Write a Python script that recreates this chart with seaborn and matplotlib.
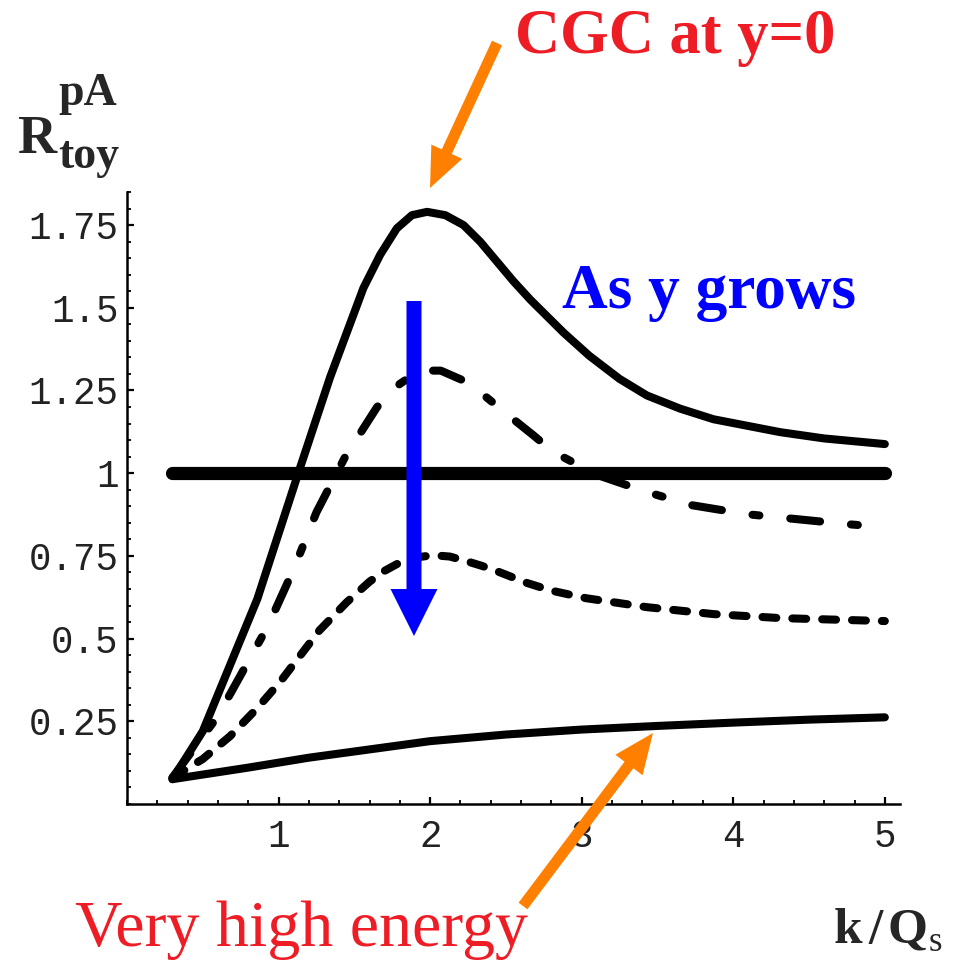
import matplotlib
matplotlib.use('Agg')
import matplotlib.pyplot as plt
import seaborn as sns
from matplotlib.patches import FancyArrow
from matplotlib.transforms import IdentityTransform
from matplotlib.ticker import FixedLocator, MultipleLocator, FuncFormatter

# curves (k/Qs, R)
top_x = [0.3, 0.5, 0.68, 0.86, 1.13, 1.34, 1.56, 1.67, 1.78, 1.88, 1.98, 2.1, 2.22, 2.33, 2.44,
         2.55, 2.66, 2.77, 2.88, 3.05, 3.25, 3.43, 3.65, 3.87, 4.31, 4.6, 5.0]
top_y = [0.075, 0.22, 0.42, 0.62, 1.0, 1.29, 1.56, 1.66, 1.74, 1.78, 1.79, 1.78, 1.75, 1.70, 1.64,
         1.58, 1.525, 1.475, 1.425, 1.355, 1.285, 1.235, 1.195, 1.163, 1.124, 1.105, 1.088]

dashdot_x = [0.3, 0.6, 0.93, 1.1, 1.25, 1.44, 1.65, 1.8, 1.93, 2.07, 2.22, 2.37, 2.53, 2.68, 2.81,
             3.1, 3.43, 3.73, 4.09, 4.42, 4.75, 5.0]
dashdot_y = [0.08, 0.266, 0.538, 0.71, 0.882, 1.05, 1.2, 1.27, 1.31, 1.31, 1.28, 1.23, 1.17, 1.115, 1.065,
             0.995, 0.943, 0.903, 0.876, 0.861, 0.846, 0.837]

dashed_x = [0.3, 0.5, 0.68, 0.86, 1.01, 1.14, 1.27, 1.45, 1.6, 1.7, 1.8, 1.9, 2.02, 2.13, 2.24, 2.34,
            2.44, 2.64, 2.8, 3.03, 3.43, 3.87, 4.31, 5.0]
dashed_y = [0.08, 0.136, 0.205, 0.29, 0.369, 0.447, 0.525, 0.61, 0.672, 0.705, 0.73, 0.745, 0.752, 0.748,
            0.734, 0.72, 0.704, 0.668, 0.645, 0.622, 0.595, 0.574, 0.562, 0.553]

bottom_x = [0.3, 0.8, 1.2, 1.6, 2.0, 2.5, 3.0, 3.5, 4.0, 4.5, 5.0]
bottom_y = [0.075, 0.11, 0.14, 0.165, 0.19, 0.21, 0.225, 0.236, 0.246, 0.255, 0.262]

unity_x = [0.3, 5.0]
unity_y = [1.0, 1.0]

x_ticks = [1, 2, 3, 4, 5]
y_ticks = [0.25, 0.5, 0.75, 1.0, 1.25, 1.5, 1.75]

W, H = 959, 960

sns.set_style('ticks')
plt.rcParams['font.family'] = ['Liberation Serif', 'DejaVu Serif']
plt.rcParams['lines.scale_dashes'] = False

fig = plt.figure(figsize=(W / 100, H / 100), dpi=100)
ax = fig.add_axes([127 / W, 1 - 804 / H, 773 / W, 612 / H])

common = dict(ax=ax, color='black', errorbar=None, legend=False)
sns.lineplot(x=unity_x, y=unity_y, lw=9.5, solid_capstyle='round', **common)
sns.lineplot(x=top_x, y=top_y, lw=5.8, solid_capstyle='round', solid_joinstyle='round', **common)
sns.lineplot(x=dashdot_x, y=dashdot_y, lw=5.8, linestyle=(0, (21.6, 22.3, 5, 22.3)),
             dash_capstyle='round', dash_joinstyle='round', **common)
sns.lineplot(x=dashed_x, y=dashed_y, lw=5.8, linestyle=(0, (10, 11.5)),
             dash_capstyle='round', dash_joinstyle='round', **common)
sns.lineplot(x=bottom_x, y=bottom_y, lw=5.8, solid_capstyle='round', solid_joinstyle='round', **common)

ax.set_xlim(0, 5.1)
ax.set_ylim(0, 1.85)
ax.set_xlabel('')
ax.set_ylabel('')
sns.despine(ax=ax)
for s in ('left', 'bottom'):
    ax.spines[s].set_linewidth(1.8)
    ax.spines[s].set_color('black')

ax.xaxis.set_major_locator(FixedLocator(x_ticks))
ax.xaxis.set_minor_locator(MultipleLocator(0.2))
ax.yaxis.set_major_locator(FixedLocator(y_ticks))
ax.yaxis.set_minor_locator(MultipleLocator(0.05))
ax.yaxis.set_major_formatter(FuncFormatter(lambda v, p: f'{v:g}'))
ax.tick_params(which='major', direction='in', length=5, width=1.6, color='black',
               labelsize=27, labelcolor='#222222')
ax.tick_params(which='minor', direction='in', length=3, width=1.3, color='black')
ax.tick_params(axis='y', which='major', pad=6)
ax.tick_params(axis='x', which='major', pad=11)
for lab in ax.get_xticklabels() + ax.get_yticklabels():
    lab.set_family(['Liberation Mono', 'DejaVu Sans Mono'])


def px(x, y):
    return x / W, 1 - y / H


# axis labels
fig.text(*px(17, 153), 'R', fontsize=39, fontweight='bold', va='baseline')
fig.text(*px(58, 105), 'pA', fontsize=33, fontweight='bold', va='baseline')
fig.text(*px(58, 168), 'toy', fontsize=33, fontweight='bold', va='baseline')
fig.text(*px(834, 943), 'k', fontsize=37, fontweight='bold', va='baseline')
fig.text(*px(868, 943), '/', fontsize=37, fontweight='bold', va='baseline')
fig.text(*px(888, 943), 'Q', fontsize=37, fontweight='bold', va='baseline')
fig.text(*px(929, 951), 's', fontsize=25, va='baseline')

# annotations
fig.text(*px(515, 53), 'CGC at y=0', fontsize=45, fontweight='bold', color='#ee1c25', va='baseline')
fig.text(*px(562, 308), 'As y grows', fontsize=45.5, fontweight='bold', color='#0000ff', va='baseline')
fig.text(*px(75, 946), 'Very high energy', fontsize=47.5, color='#ee1c25', va='baseline')


def arrow(x0, y0, x1, y1, w, hw, hl, color):
    a = FancyArrow(x0, H - y0, x1 - x0, -(y1 - y0), width=w, head_width=hw, head_length=hl,
                   length_includes_head=True, color=color, lw=0, transform=IdentityTransform())
    fig.add_artist(a)


arrow(414, 301, 414, 636, 15, 47, 47, '#0000ff')
arrow(497, 43, 430, 188, 11, 34, 40, '#ff8000')
arrow(523, 906, 653, 733, 11, 34, 40, '#ff8000')

fig.savefig('out.png', dpi=100)
